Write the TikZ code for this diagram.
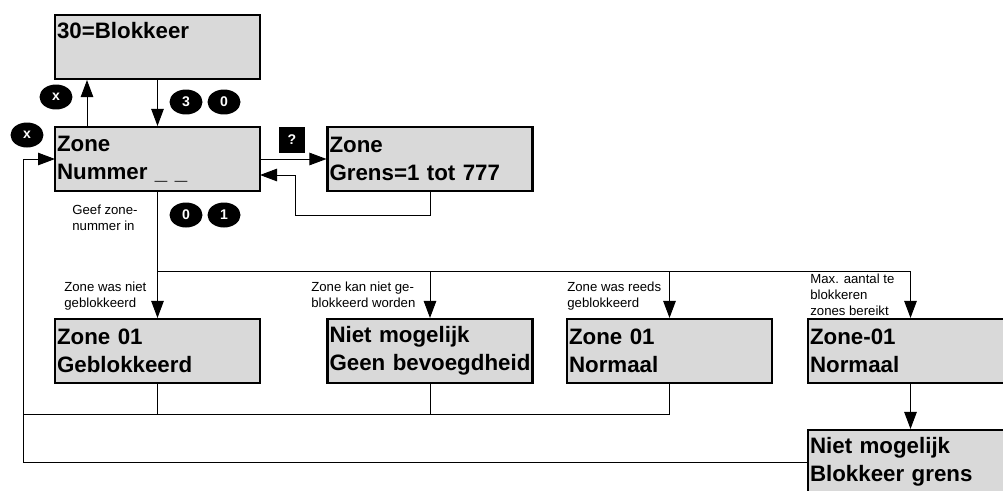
\documentclass[tikz,border=0pt]{standalone}
\usepackage{fontspec}
\setmainfont{Liberation Sans}
\usetikzlibrary{arrows.meta,shapes.geometric}
\definecolor{boxgray}{HTML}{D9D9D9}
\tikzset{
	disp/.style={draw, line width=1.2pt, fill=boxgray, minimum width=4.1cm, minimum height=1.28cm, text width=4.02cm, inner xsep=0.02cm, inner ysep=0pt, align=left, font=\fontsize{12.7}{15.9}\selectfont\bfseries},
	lbl/.style={anchor=west, inner sep=0pt, align=left, font=\fontsize{7.5}{9}\selectfont},
	keyrnd/.style={ellipse, fill=black, text=white, minimum width=0.66cm, minimum height=0.5cm, inner sep=0pt, font=\fontsize{8}{9}\selectfont\bfseries},
	keysq/.style={fill=black, text=white, minimum size=0.52cm, inner sep=0pt, font=\fontsize{8}{9}\selectfont\bfseries},
	line/.style={line width=0.55pt},
	arr/.style={line width=0.55pt, -{Triangle[length=0.34cm, width=0.25cm]}}
}
\begin{document}
\begin{tikzpicture}[x=0.02cm, y=-0.02cm]

	\clip (0,0) rectangle (1003,490);

	% displays
	\node[disp] (menu) at (157.5,47) {30=Blokkeer\\[3.4pt]\mbox{}};
	\node[disp] (zone) at (157.5,159) {Zone\\Nummer \_ \_};
	\node[disp] (grens) at (430,159) {Zone\\Grens=1 tot 777};
	\node[disp] (blok) at (157.5,351) {Zone 01\\Geblokkeerd};
	\node[disp] (geen) at (430,351) {Niet mogelijk\\Geen bevoegdheid};
	\node[disp] (norm) at (669.5,351) {Zone 01\\Normaal};
	\node[disp] (max) at (910.5,351) {Zone-01\\Normaal};
	\node[disp] (limiet) at (910.5,462) {Niet mogelijk\\Blokkeer grens};

	% keys
	\node[keyrnd] (kx1) at (56,97) {x};
	\node[keyrnd] (kx2) at (27,135) {x};
	\node[keyrnd] (k3) at (186,102) {3};
	\node[keyrnd] (k0) at (224,102) {0};
	\node[keyrnd] (k0b) at (186,215) {0};
	\node[keyrnd] (k1) at (224,215) {1};
	\node[keysq] (kq) at (292,140) {?};

	% labels
	\node[lbl] (lgeef) at (72,218) {Geef zone-\\nummer in};
	\node[lbl] (lblok) at (64,296) {Zone was niet\\geblokkeerd};
	\node[lbl] (lgeen) at (311,295) {Zone kan niet ge-\\blokkeerd worden};
	\node[lbl] (lnorm) at (567,296) {Zone was reeds\\geblokkeerd};
	\node[lbl] (lmax) at (810,295) {Max. aantal te\\blokkeren\\zones bereikt};

	% free ends
	\coordinate (split) at (157.5,271);
	\coordinate (merge) at (157.5,414);
	\coordinate (left) at (23,414);
	\coordinate (zonein) at (55,159);
	\coordinate (zoneup) at (87,127);
	\coordinate (zoneret) at (260,175);
	\coordinate (retcorner) at (295,215);

	\draw[arr] (zoneup)--(zoneup |- menu.south);
	\draw[arr] (menu.south)--(zone.north);
	\draw[arr] (zone.east)--(grens.west);
	\draw[arr] (grens.south)--(grens.south |- retcorner)--(retcorner)--(retcorner |- zoneret)--(zoneret);

	\draw[line] (zone.south)--(split);
	\draw[arr] (split)--(blok.north);
	\draw[line] (split)--(split -| max.north);
	\draw[arr] (split -| geen.north)--(geen.north);
	\draw[arr] (split -| norm.north)--(norm.north);
	\draw[arr] (split -| max.north)--(max.north);
	\draw[arr] (max.south)--(limiet.north);

	\draw[line] (blok.south)--(merge);
	\draw[line] (geen.south)--(geen.south |- merge);
	\draw[line] (norm.south)--(norm.south |- merge)--(left);
	\draw[arr] (limiet.west)--(limiet.west -| left)--(left |- zonein)--(zonein);

\end{tikzpicture}
\end{document}
